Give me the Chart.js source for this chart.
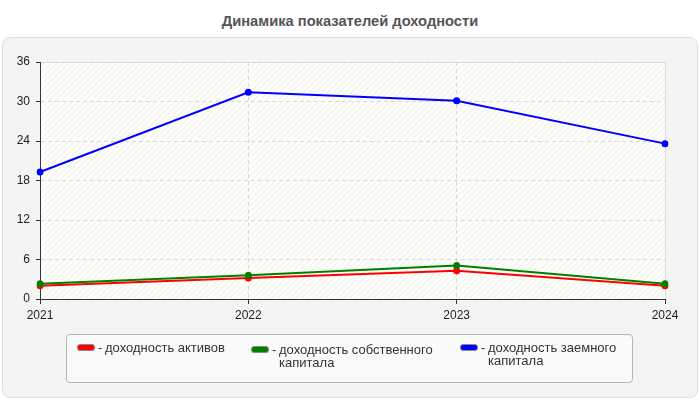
<!DOCTYPE html>
<html>
<head>
<meta charset="utf-8">
<script src="https://cdn.jsdelivr.net/npm/chart.js@4/dist/chart.umd.min.js"></script>
<style>
  html, body { margin: 0; padding: 0; background: #ffffff; width: 700px; height: 400px; overflow: hidden; font-family: "Liberation Sans", Arial, sans-serif; }
  #title { position: absolute; left: 0; top: 12px; width: 700px; text-align: center; font-weight: bold; font-size: 14.7px; line-height: 18px; color: #555; }
  #panel { position: absolute; left: 2px; top: 37px; width: 694px; height: 359px; background: #f4f4f4; border: 1px solid #dedede; border-radius: 8px; }
  #wrap { position: absolute; left: 0; top: 0; width: 700px; height: 400px; }
  #legend { position: absolute; left: 66px; top: 334px; width: 565px; height: 47px; background: #fafafa; border: 1px solid #b5b5b5; border-radius: 4px; font-size: 13px; color: #333; }
  .item { position: absolute; display: flex; align-items: flex-start; line-height: 12.5px; }
  .sw { width: 16px; height: 5px; border: 1px solid #8a8a8a; border-radius: 3px; margin-top: 2px; margin-right: 3px; }
  .dash { width: 7px; }
</style>
</head>
<body>
<div id="title">Динамика показателей доходности</div>
<div id="panel"></div>
<div id="wrap"><canvas id="c" width="700" height="400"></canvas></div>
<div id="legend"></div>
<script>
const categories = ["2021", "2022", "2023", "2024"];
const seriesNames = ["доходность активов", "доходность собственного капитала", "доходность заемного капитала"];
const roa = [2.0, 3.2, 4.3, 2.0];
const roe = [2.3, 3.6, 5.1, 2.3];
const debtReturn = [19.3, 31.4, 30.1, 23.6];
const yTicks = [0, 6, 12, 18, 24, 30, 36];
const colors = ["#ff0000", "#008000", "#0000ff"];

// legend (HTML)
const legendPos = [[10, 7, 0], [184, 9, 1], [393, 7, 2]];
const legendWidths = [150, 165, 160];
const legendEl = document.getElementById('legend');
legendPos.forEach(([x, y, i], k) => {
  const d = document.createElement('div');
  d.className = 'item';
  d.style.left = x + 'px';
  d.style.top = y + 'px';
  d.innerHTML = '<div class="sw" style="background:' + colors[i] + '"></div><span class="dash">-</span><span style="width:' + legendWidths[k] + 'px">' + seriesNames[i] + '</span>';
  legendEl.appendChild(d);
});

// hatched background pattern
function makePattern(ctx) {
  const p = document.createElement('canvas');
  p.width = 6; p.height = 6;
  const pc = p.getContext('2d');
  pc.fillStyle = '#fdfdf9';
  pc.fillRect(0, 0, 6, 6);
  pc.strokeStyle = 'rgba(205,205,200,0.3)';
  pc.lineWidth = 1;
  pc.beginPath();
  pc.moveTo(0, 6); pc.lineTo(6, 0);
  pc.moveTo(-3, 3); pc.lineTo(3, -3);
  pc.moveTo(3, 9); pc.lineTo(9, 3);
  pc.stroke();
  return ctx.createPattern(p, 'repeat');
}

const bgPlugin = {
  id: 'bg',
  beforeDraw(chart) {
    const { ctx, chartArea: a } = chart;
    ctx.save();
    ctx.fillStyle = makePattern(ctx);
    ctx.fillRect(a.left, a.top, a.right - a.left, a.bottom - a.top);
    ctx.strokeStyle = '#dedede';
    ctx.lineWidth = 1;
    ctx.beginPath();
    ctx.moveTo(a.left, a.top + 0.5); ctx.lineTo(a.right + 0.5, a.top + 0.5); ctx.lineTo(a.right + 0.5, a.bottom);
    ctx.stroke();
    ctx.restore();
  }
};

const mk = (label, data, color, order) => ({
  label, data, borderColor: color, backgroundColor: color,
  borderWidth: 2, pointRadius: 3.5, pointHoverRadius: 3.5, pointBorderWidth: 0,
  tension: 0, fill: false, order
});

new Chart(document.getElementById('c'), {
  type: 'line',
  data: {
    labels: categories,
    datasets: [
      mk(seriesNames[0], roa, colors[0], 1),
      mk(seriesNames[1], roe, colors[1], 0),
      mk(seriesNames[2], debtReturn, colors[2], 2)
    ]
  },
  options: {
    responsive: false,
    animation: false,
    events: [],
    layout: { padding: { left: 0, top: 62, right: 35, bottom: 0 } },
    plugins: { legend: { display: false }, title: { display: false }, tooltip: { enabled: false } },
    scales: {
      x: {
        offset: false,
        afterFit(s) { s.height = 101; },
        grid: { color: '#d8d8d8', tickLength: 5, tickColor: '#333', tickBorderDash: [0, 0] },
        border: { display: true, color: '#333', width: 1, dash: [4, 3] },
        ticks: { color: '#222', font: { family: 'Liberation Sans', size: 12 }, padding: 4, maxRotation: 0 }
      },
      y: {
        min: 0, max: 36,
        afterFit(s) { s.width = 40; },
        afterBuildTicks(s) { s.ticks = yTicks.map(v => ({ value: v })); },
        grid: { color: '#d8d8d8', tickLength: 4, tickColor: '#333', tickBorderDash: [0, 0] },
        border: { display: true, color: '#333', width: 1, dash: [4, 3] },
        ticks: { color: '#222', font: { family: 'Liberation Sans', size: 12 }, padding: 6 }
      }
    }
  },
  plugins: [bgPlugin]
});
</script>
</body>
</html>
